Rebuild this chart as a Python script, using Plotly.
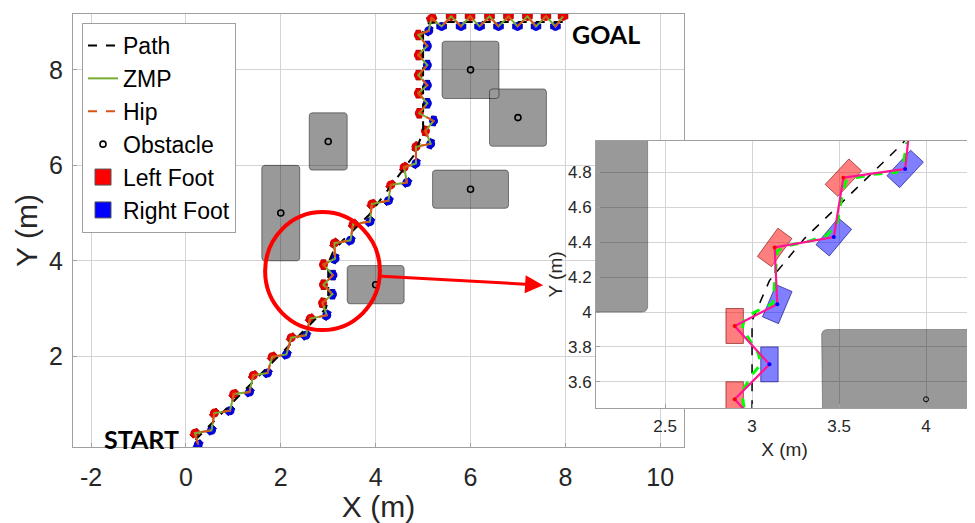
import numpy as np
import plotly.graph_objects as go

# ---------------- data ----------------
# obstacles: centre, width, height (m)
obs_x = [2.0, 3.0, 4.0, 6.0, 6.0, 7.0]
obs_y = [5.0, 6.5, 3.5, 5.5, 8.0, 7.0]
obs_w = [0.8, 0.8, 1.2, 1.6, 1.2, 1.2]
obs_h = [2.0, 1.2, 0.8, 0.8, 1.2, 1.2]

# left (red) footsteps: centre and heading (deg)
left_x = [0.19, 0.60, 1.01, 1.42, 1.82, 2.22, 2.62, 2.88, 2.90, 2.90, 3.13, 3.525, 3.92, 4.32, 4.60,
          4.85, 5.05, 4.92, 4.90, 4.90, 4.90, 4.90, 5.18, 5.59, 5.99, 6.40, 6.80, 7.20, 7.59, 7.95]
left_y = [0.39, 0.81, 1.21, 1.60, 1.99, 2.39, 2.79, 3.12, 3.50, 3.92, 4.37, 4.77, 5.19, 5.59, 5.96,
          6.39, 6.72, 7.09, 7.51, 7.89, 8.31, 8.73, 9.08, 9.12, 9.12, 9.12, 9.12, 9.12, 9.12, 9.12]
left_th = [45, 45, 45, 45, 45, 45, 45, 80, 90, 90, 54, 47, 45, 45, 55,
           65, 80, 90, 90, 90, 90, 90, 20, 0, 0, 0, 0, 0, 0, 0]

# right (blue) footsteps
right_x = [0.26, 0.54, 0.93, 1.34, 1.72, 2.12, 2.53, 2.97, 3.09, 3.10, 3.145, 3.47, 3.88, 4.27, 4.66,
           4.85, 5.16, 5.22, 5.09, 5.09, 5.09, 5.09, 5.12, 5.39, 5.80, 6.19, 6.59, 6.99, 7.38, 7.79]
right_y = [0.15, 0.45, 0.86, 1.25, 1.65, 2.04, 2.44, 2.86, 3.30, 3.70, 4.045, 4.43, 4.82, 5.26, 5.64,
           6.04, 6.45, 6.93, 7.30, 7.68, 8.10, 8.50, 8.82, 8.91, 8.91, 8.91, 8.91, 8.91, 8.91, 8.91]
right_th = [45, 45, 45, 45, 45, 45, 45, 60, 90, 90, 67, 50, 47, 45, 45,
            60, 70, 85, 90, 90, 90, 90, 60, 0, 0, 0, 0, 0, 0, 0]

# planned path (black dashed)
path_x = [0.20, 2.95, 3.00, 3.00, 3.10, 3.30, 3.56, 3.86, 4.80, 5.00, 5.00, 5.10, 5.30, 8.00]
path_y = [0.25, 3.00, 3.20, 3.95, 4.18, 4.42, 4.67, 4.96, 6.20, 6.70, 8.80, 8.97, 9.00, 9.00]

# actual ZMP in the zoomed view (green dashed)
zmp_zoom_x = [2.954, 2.944, 2.954, 3.008, 3.05, 3.036, 2.98, 2.944, 2.954, 3.008, 3.12, 3.13, 3.145,
              3.20, 3.31, 3.43, 3.49, 3.52, 3.54, 3.60, 3.70, 3.83, 3.87, 3.89]
zmp_zoom_y = [3.453, 3.516, 3.564, 3.65, 3.70, 3.764, 3.85, 3.907, 3.954, 3.996, 4.05, 4.18, 4.35,
              4.38, 4.40, 4.44, 4.51, 4.68, 4.75, 4.77, 4.79, 4.80, 4.85, 4.975]

main_xticks = [-2, 0, 2, 4, 6, 8, 10]
main_xticktext = ["-2", "0", "2", "4", "6", "8", "10"]
main_yticks = [2, 4, 6, 8]
zoom_xticks = [2.5, 3, 3.5, 4]
zoom_yticks = [3.6, 3.8, 4.0, 4.2, 4.4, 4.6, 4.8]
zoom_yticktext = ["3.6", "3.8", "4", "4.2", "4.4", "4.6", "4.8"]

FOOT_L, FOOT_W = 0.2, 0.1

# ---------------- geometry helpers ----------------
def foot_polys(xs, ys, ths):
    px, py = [], []
    for x, y, t in zip(xs, ys, ths):
        a = np.radians(t)
        ux, uy = np.cos(a), np.sin(a)
        vx, vy = -uy, ux
        for sl, sw in [(1, 1), (1, -1), (-1, -1), (-1, 1), (1, 1)]:
            px.append(x + sl * FOOT_L / 2 * ux + sw * FOOT_W / 2 * vx)
            py.append(y + sl * FOOT_L / 2 * uy + sw * FOOT_W / 2 * vy)
        px.append(None)
        py.append(None)
    return px, py


def rounded_rects(cxs, cys, ws, hs, r):
    px, py = [], []
    for cx, cy, w, h in zip(cxs, cys, ws, hs):
        corners = [(cx + w / 2 - r, cy + h / 2 - r, 0), (cx - w / 2 + r, cy + h / 2 - r, 90),
                   (cx - w / 2 + r, cy - h / 2 + r, 180), (cx + w / 2 - r, cy - h / 2 + r, 270)]
        first = None
        for ox, oy, a0 in corners:
            for a in np.radians(np.linspace(a0, a0 + 90, 7)):
                px.append(ox + r * np.cos(a))
                py.append(oy + r * np.sin(a))
                if first is None:
                    first = (px[-1], py[-1])
        px.append(first[0]); py.append(first[1])
        px.append(None); py.append(None)
    return px, py


seq_x = [v for pair in zip(right_x, left_x) for v in pair]
seq_y = [v for pair in zip(right_y, left_y) for v in pair]

FONT = "Liberation Sans, Arial, sans-serif"
TXT = "#262626"

# page is drawn with an 8px body margin -> figure is 8px smaller than the window
W, H = 967, 515


def fx(px):
    return (px - 8) / W


def fy(py):
    return 1 - (py - 8) / H


fig = go.Figure()

# ---------------- main map ----------------
ox, oy = rounded_rects(obs_x, obs_y, obs_w, obs_h, 0.06)
fig.add_trace(go.Scatter(x=ox, y=oy, mode="lines", fill="toself", fillcolor="rgba(0,0,0,0.40)",
                         line=dict(color="rgba(0,0,0,0.45)", width=1), showlegend=False, hoverinfo="skip"))

lx, ly = foot_polys(left_x, left_y, left_th)
rx, ry = foot_polys(right_x, right_y, right_th)
fig.add_trace(go.Scatter(x=lx, y=ly, mode="lines", fill="toself", fillcolor="#ff0000",
                         line=dict(color="#b00000", width=1), showlegend=False, hoverinfo="skip"))
fig.add_trace(go.Scatter(x=rx, y=ry, mode="lines", fill="toself", fillcolor="#0000ff",
                         line=dict(color="#0000a0", width=1), showlegend=False, hoverinfo="skip"))
fig.add_trace(go.Scatter(x=left_x, y=left_y, mode="markers", showlegend=False,
                         marker=dict(symbol="circle-open", size=7, color="#e00000", line=dict(width=2))))
fig.add_trace(go.Scatter(x=right_x, y=right_y, mode="markers", showlegend=False,
                         marker=dict(symbol="circle-open", size=7, color="#0000e0", line=dict(width=2))))

fig.add_trace(go.Scatter(x=path_x, y=path_y, mode="lines", name="Path", legendrank=1,
                         line=dict(color="black", width=2, dash="dash")))
fig.add_trace(go.Scatter(x=seq_x, y=seq_y, mode="lines", name="ZMP", legendrank=2,
                         line=dict(color="#77AC30", width=2)))
fig.add_trace(go.Scatter(x=seq_x, y=seq_y, mode="lines", name="Hip", legendrank=3,
                         line=dict(color="#D95319", width=2, dash="dash")))
fig.add_trace(go.Scatter(x=obs_x, y=obs_y, mode="markers", name="Obstacle", legendrank=4,
                         marker=dict(symbol="circle-open", size=6, color="black", line=dict(width=1.6))))
fig.add_trace(go.Scatter(x=[None], y=[None], mode="markers", name="Left Foot", legendrank=5,
                         marker=dict(symbol="square", size=16, color="#ff0000",
                                     line=dict(color="#555555", width=1))))
fig.add_trace(go.Scatter(x=[None], y=[None], mode="markers", name="Right Foot", legendrank=6,
                         marker=dict(symbol="square", size=16, color="#0000ff",
                                     line=dict(color="#555555", width=1))))

# ---------------- zoomed view ----------------
zx, zy = rounded_rects(obs_x, obs_y, obs_w, obs_h, 0.03)
fig.add_trace(go.Scatter(x=zx, y=zy, xaxis="x2", yaxis="y2", mode="lines", fill="toself",
                         fillcolor="rgba(0,0,0,0.40)", line=dict(color="rgba(0,0,0,0.3)", width=1),
                         showlegend=False, hoverinfo="skip"))
fig.add_trace(go.Scatter(x=lx, y=ly, xaxis="x2", yaxis="y2", mode="lines", fill="toself",
                         fillcolor="rgba(255,0,0,0.5)", line=dict(color="rgba(120,0,0,0.6)", width=1),
                         showlegend=False, hoverinfo="skip"))
fig.add_trace(go.Scatter(x=rx, y=ry, xaxis="x2", yaxis="y2", mode="lines", fill="toself",
                         fillcolor="rgba(0,0,255,0.5)", line=dict(color="rgba(0,0,120,0.6)", width=1),
                         showlegend=False, hoverinfo="skip"))
fig.add_trace(go.Scatter(x=path_x, y=path_y, xaxis="x2", yaxis="y2", mode="lines", showlegend=False,
                         line=dict(color="black", width=1.5, dash="dash")))
fig.add_trace(go.Scatter(x=zmp_zoom_x, y=zmp_zoom_y, xaxis="x2", yaxis="y2", mode="lines",
                         showlegend=False, line=dict(color="#00ff00", width=3, dash="dash")))
fig.add_trace(go.Scatter(x=seq_x, y=seq_y, xaxis="x2", yaxis="y2", mode="lines", showlegend=False,
                         line=dict(color="#ff1493", width=2.2)))
fig.add_trace(go.Scatter(x=left_x, y=left_y, xaxis="x2", yaxis="y2", mode="markers", showlegend=False,
                         marker=dict(symbol="circle", size=4, color="#ff0000")))
fig.add_trace(go.Scatter(x=right_x, y=right_y, xaxis="x2", yaxis="y2", mode="markers", showlegend=False,
                         marker=dict(symbol="circle", size=4, color="#0000ff")))
fig.add_trace(go.Scatter(x=obs_x, y=obs_y, xaxis="x2", yaxis="y2", mode="markers", showlegend=False,
                         marker=dict(symbol="circle-open", size=5, color="black", line=dict(width=1))))

axis_common = dict(showgrid=True, gridcolor="#d4d4d4", gridwidth=1, zeroline=False,
                   showline=True, mirror=True, linecolor="#a0a0a0", linewidth=1,
                   ticks="inside", ticklen=4, tickcolor="#a0a0a0")

fig.update_layout(
    width=W, height=H, autosize=False,
    margin=dict(l=0, r=0, t=0, b=0),
    paper_bgcolor="white", plot_bgcolor="white",
    font=dict(family=FONT, color=TXT),
    xaxis=dict(domain=[fx(73), fx(684)], range=[-2.38, 10.5], tickvals=main_xticks,
               ticktext=main_xticktext, ticklabelstandoff=8,
               tickfont=dict(size=25, color=TXT), title=dict(text="X (m)", font=dict(size=30, color=TXT),
                                                              standoff=4),
               **axis_common),
    yaxis=dict(domain=[fy(447), fy(14)], range=[0.1, 9.17], tickvals=main_yticks,
               ticklabelstandoff=4,
               tickfont=dict(size=25, color=TXT), title=dict(text="Y (m)", font=dict(size=30, color=TXT),
                                                              standoff=2),
               **axis_common),
    xaxis2=dict(domain=[fx(596), fx(973)], range=[2.103, 4.27], anchor="y2", tickvals=zoom_xticks,
                ticklabelstandoff=3,
                tickfont=dict(size=17, color=TXT), title=dict(text="X (m)", font=dict(size=19, color=TXT),
                                                               standoff=7),
                **axis_common),
    yaxis2=dict(domain=[fy(408), fy(141)], range=[3.45, 4.98], anchor="x2", tickvals=zoom_yticks,
                ticktext=zoom_yticktext,
                tickfont=dict(size=17, color=TXT), title=dict(text="Y (m)", font=dict(size=19, color=TXT),
                                                               standoff=0),
                **axis_common),
    legend=dict(x=fx(82), y=fy(23), xanchor="left", yanchor="top", bgcolor="white",
                bordercolor="#a0a0a0", borderwidth=1, font=dict(size=23, color="black"),
                tracegroupgap=0, itemwidth=30),
    showlegend=True,
)

# white backing for the zoomed view (covers the map behind it)
fig.add_shape(type="rect", xref="x2 domain", yref="y2 domain", x0=-0.1406, x1=1.01, y0=-0.195, y1=1.004,
              fillcolor="white", line=dict(width=0), layer="below")

# red circle around the zoomed region
fig.add_shape(type="circle", xref="x", yref="y", x0=1.67, x1=4.09, y0=2.55, y1=5.02,
              line=dict(color="#ff0000", width=4), layer="above")

fig.add_annotation(x=7.53, y=3.49, ax=4.09, ay=3.68, xref="x", yref="y", axref="x", ayref="y",
                   text="", showarrow=True, arrowhead=2, arrowsize=1.2, arrowwidth=3, arrowcolor="#ff0000")

fig.add_annotation(x=-0.93, y=0.26, xref="x", yref="y", text="<b>START</b>", showarrow=False,
                   font=dict(family="Lato, sans-serif", size=25, color="black"))
fig.add_annotation(x=8.86, y=8.75, xref="x", yref="y", text="<b>GOAL</b>", showarrow=False,
                   font=dict(family="Lato, sans-serif", size=25, color="black"))

fig.write_html("out.html")
